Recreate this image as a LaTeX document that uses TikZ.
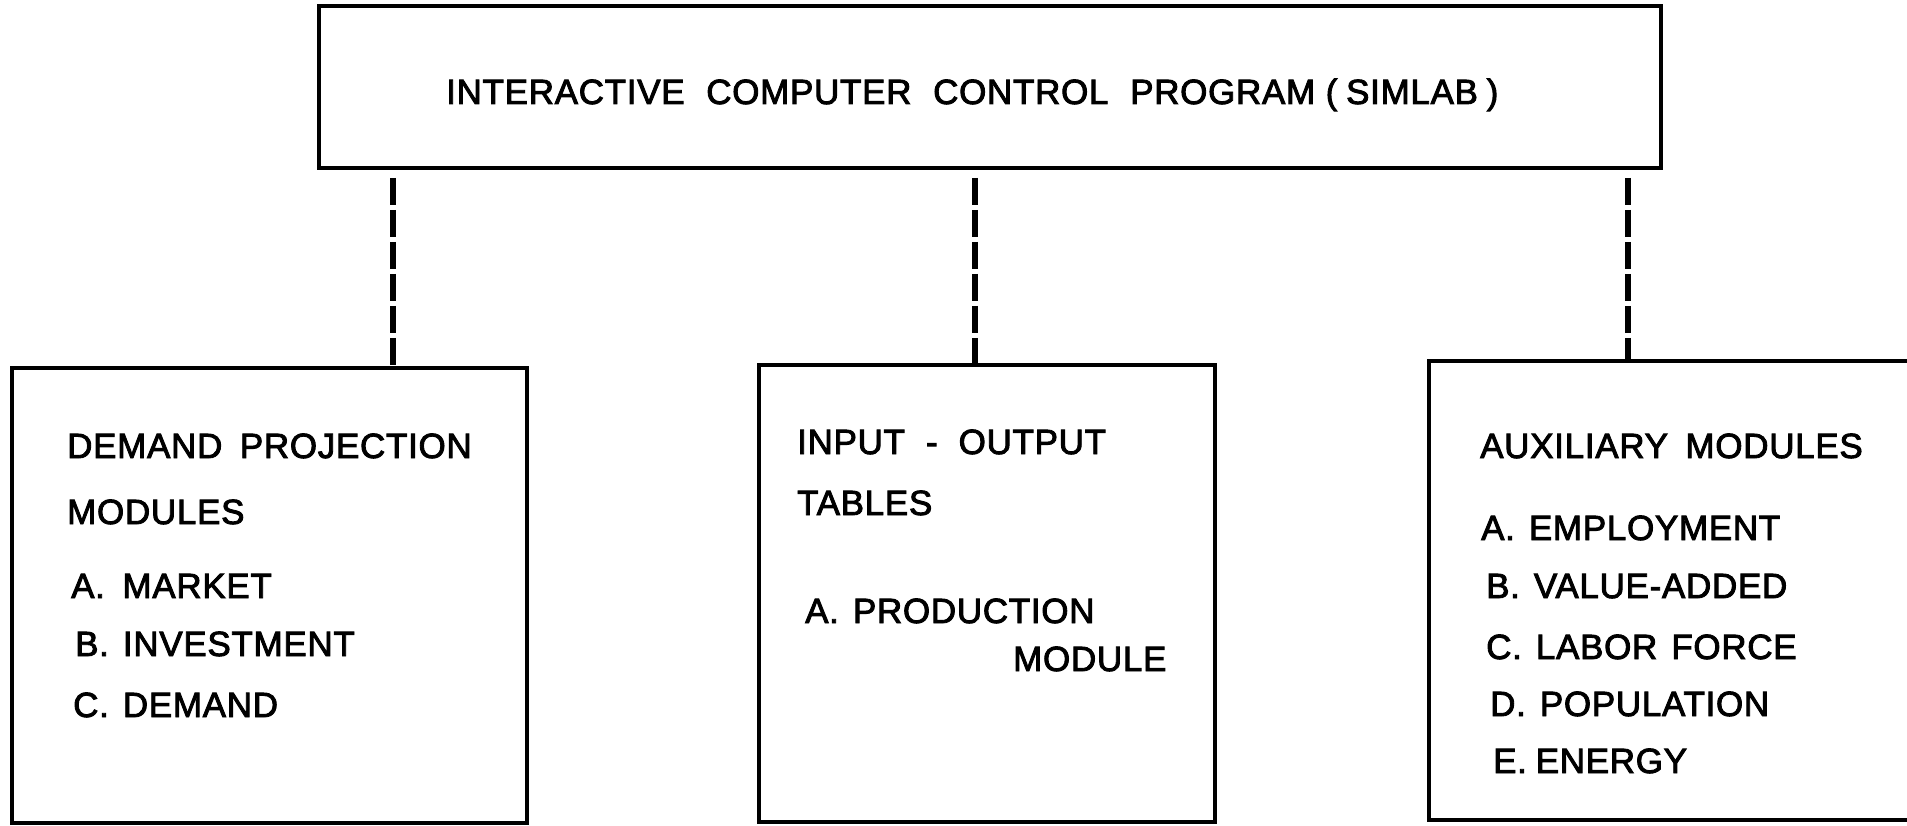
\documentclass[tikz,border=0pt]{standalone}
\usepackage{fontspec}
\setmainfont{Liberation Sans}
\newfontfamily\labfont[LetterSpace=2,FakeBold=2.5]{Liberation Sans}
\begin{document}
\begin{tikzpicture}[x=1pt,y=-1pt,
  box/.style={draw=black,line width=3.5pt,inner sep=0pt,rectangle},
  txt/.style={anchor=base west,inner sep=0pt,font=\labfont\fontsize{35}{40}\selectfont},
  ttl/.style={anchor=base west,inner sep=0pt,font=\labfont\fontsize{35}{40}\selectfont},
  link/.style={line width=6pt,dash pattern=on 27pt off 5pt}]
\useasboundingbox (0,0) rectangle (1907,826);
\clip (0,0) rectangle (1907,826);
% boxes
\node[box,minimum width=1342pt,minimum height=162pt] (top) at (990,87) {};
\node[box,minimum width=515pt,minimum height=455pt] (left) at (269.5,595.5) {};
\node[box,minimum width=456pt,minimum height=457pt] (mid) at (987,593.5) {};
\node[box,minimum width=520pt,minimum height=459pt] (right) at (1689,590.5) {};
% title
\node[ttl] (t0) at (446,104) {INTERACTIVE\hspace{0.62em}COMPUTER\hspace{0.62em}CONTROL\hspace{0.62em}PROGRAM\hspace{0.3em}(\hspace{0.25em}SIMLAB\hspace{0.25em})};
% left box text
\node[txt] (l1) at (67,458) {DEMAND\hspace{0.5em}PROJECTION};
\node[txt] (l2) at (67,524) {MODULES};
\node[txt] (l3) at (71,598) {A.\hspace{0.5em}MARKET};
\node[txt] (l4) at (75,656) {B.\hspace{0.4em}INVESTMENT};
\node[txt] (l5) at (73,717) {C.\hspace{0.4em}DEMAND};
% middle box text
\node[txt] (m1) at (797,454) {INPUT\hspace{0.6em}-\hspace{0.6em}OUTPUT};
\node[txt] (m2) at (797,515) {TABLES};
\node[txt] (m3) at (805,623) {A.\hspace{0.4em}PRODUCTION};
\node[txt] (m4) at (1013,671) {MODULE};
% right box text
\node[txt] (r1) at (1480,458) {AUXILIARY\hspace{0.5em}MODULES};
\node[txt] (r2) at (1481,540) {A.\hspace{0.4em}EMPLOYMENT};
\node[txt] (r3) at (1486,598) {B.\hspace{0.4em}VALUE-ADDED};
\node[txt] (r4) at (1486,659) {C.\hspace{0.4em}LABOR\hspace{0.4em}FORCE};
\node[txt] (r5) at (1490,716) {D.\hspace{0.4em}POPULATION};
\node[txt] (r6) at (1493,773) {E.\hspace{0.25em}ENERGY};
% connectors
\coordinate (a1) at (393,178);
\coordinate (a2) at (975,178);
\coordinate (a3) at (1628,178);
\draw[link] (a1) -- (a1 |- left.north);
\draw[link] (a2) -- (a2 |- mid.north);
\draw[link] (a3) -- (a3 |- right.north);
\end{tikzpicture}
\end{document}
